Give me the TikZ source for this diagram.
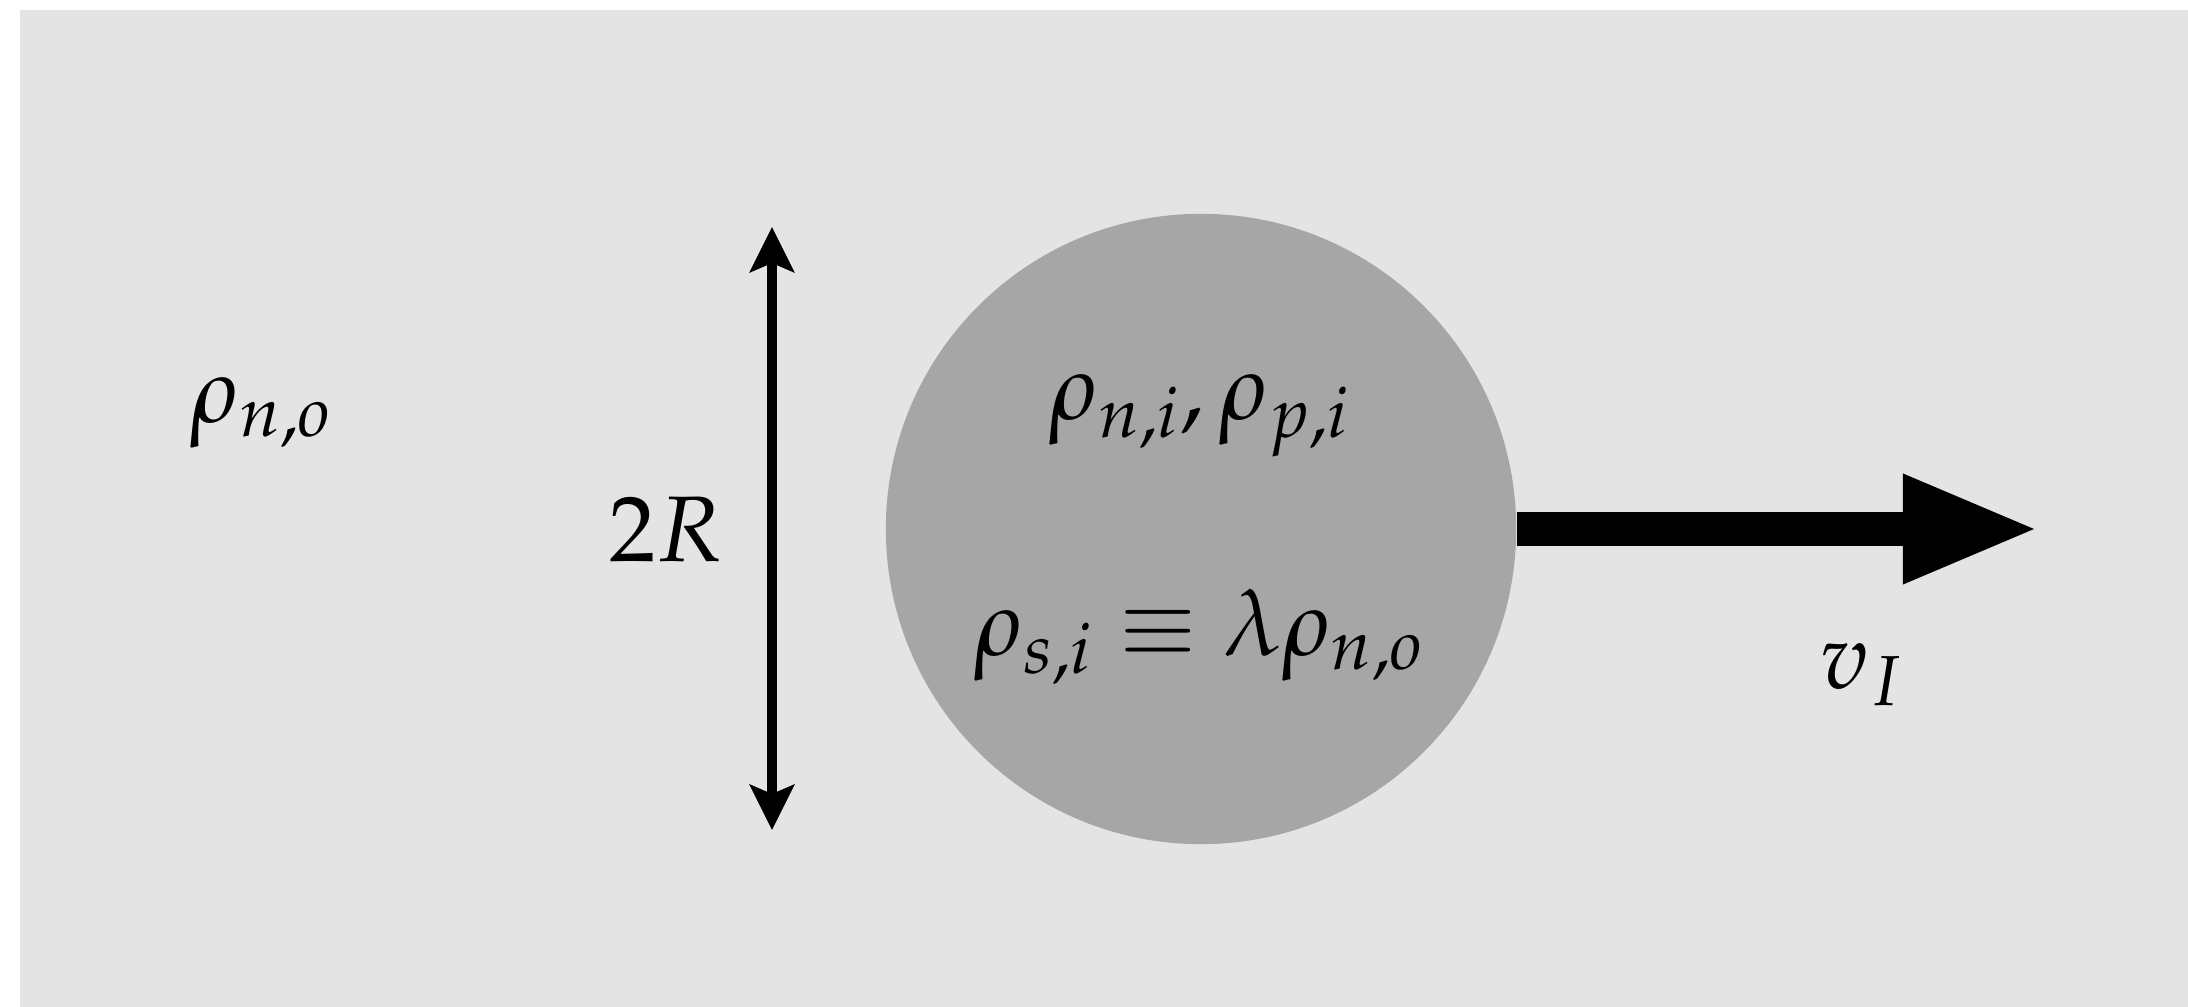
\documentclass[tikz,border=0pt]{standalone}
\usepackage{amsmath,amssymb}
\usepackage{mathpazo}
\usepackage{xcolor}
\usepackage{tikz}
\usetikzlibrary{arrows.meta,positioning,calc}
\definecolor{fog}{RGB}{228,228,228}
\definecolor{ash}{RGB}{166,166,166}
\newcommand{\lblsize}{\fontsize{26.5}{32}\selectfont}

\begin{document}
\begin{tikzpicture}[x=0.01cm,y=-0.01cm,
    lbl/.style={font=\lblsize,inner sep=0pt}]
    \useasboundingbox (0,0) rectangle (2188,1007);
    \fill[fog] (20,10) rectangle (2188,1007);
    % the droplet
    \node[circle,fill=ash,minimum size=6.30cm,inner sep=0pt] (ball) at (1201,529) {};
    \node[lbl] (inner) at (1200,416) {$\rho_{n,i},\rho_{p,i}$};
    \node[lbl] (eq) at (1200,637) {$\rho_{s,i}\equiv\lambda\rho_{n,o}$};
    \node[lbl] (outer) at (262,413) {$\rho_{n,o}$};
    % diameter
    \coordinate (top) at (772,227);
    \coordinate (bot) at (772,830);
    \draw[line width=0.1cm,{Stealth[length=0.45cm,width=0.44cm,inset=0.09cm]}-{Stealth[length=0.45cm,width=0.44cm,inset=0.09cm]}] (top) -- (bot);
    \node[lbl] (diam) at (666,530) {$2R$};
    % velocity
    \coordinate (tip) at (2034,529);
    \draw[line width=0.34cm,-{Triangle[length=1.31cm,width=1.11cm,line width=0pt]}] (ball.east) -- (tip);
    \node[lbl] (vel) at (1862,675) {$v_I$};
  \end{tikzpicture}
\end{document}
